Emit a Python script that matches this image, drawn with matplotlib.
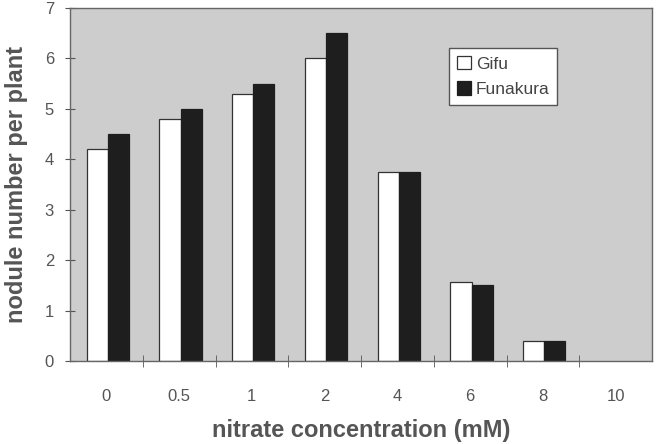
import numpy as np
import matplotlib
matplotlib.use("Agg")
import matplotlib.pyplot as plt

# data
concentrations = ["0", "0.5", "1", "2", "4", "6", "8", "10"]
gifu = [4.2, 4.8, 5.3, 6.0, 3.75, 1.57, 0.4, 0.0]
funakura = [4.5, 5.0, 5.5, 6.5, 3.75, 1.5, 0.4, 0.0]

plt.rcParams['font.family'] = ['Liberation Sans', 'DejaVu Sans']
grey = "#555555"

fig = plt.figure(figsize=(6.58, 4.44), dpi=100)
ax = fig.add_axes([70 / 658, 1 - 361 / 444, (652 - 70) / 658, (361 - 8) / 444])
ax.set_facecolor("#cdcdcd")

x = np.arange(len(concentrations))
w = 0.29
# no outline for empty bars (10 mM)
lw_g = [0.9 if v > 0 else 0 for v in gifu]
lw_f = [0.9 if v > 0 else 0 for v in funakura]
ax.bar(x - w / 2 + 0.02, gifu, w, color="white", edgecolor="#333333", linewidth=lw_g, label="Gifu")
ax.bar(x + w / 2 + 0.02, funakura, w, color="#1e1e1e", edgecolor="#1e1e1e", linewidth=lw_f, label="Funakura")

ax.set_xlim(-0.5, len(concentrations) - 0.5)
ax.set_ylim(0, 7)
ax.set_yticks(range(8))
ax.tick_params(axis="y", direction="inout", length=7, colors=grey, labelsize=12, pad=8)
ax.set_xticks(x, concentrations)
ax.set_xticks(x[:-1] + 0.5, minor=True)
ax.tick_params(axis="x", which="major", length=0, colors=grey, labelsize=12, pad=20)
ax.tick_params(axis="x", which="minor", direction="inout", length=8, color=grey)
for s in ax.spines.values():
    s.set_color("#666666")
    s.set_linewidth(1.0)

ax.set_ylabel("nodule number per plant", fontsize=17, fontweight="bold", color=grey, labelpad=12)
ax.set_xlabel("nitrate concentration (mM)", fontsize=17, fontweight="bold", color=grey, labelpad=11)

leg = ax.legend(loc="upper left", bbox_to_anchor=(0.651, 0.886), fontsize=12.5, frameon=True,
                fancybox=False, framealpha=1, facecolor="white", edgecolor="#555555",
                handlelength=0.8, handleheight=0.8, handletextpad=0.3, borderpad=0.45,
                labelspacing=0.55, borderaxespad=0)
for t in leg.get_texts():
    t.set_color("#444444")

fig.savefig("out.png", dpi=100)
